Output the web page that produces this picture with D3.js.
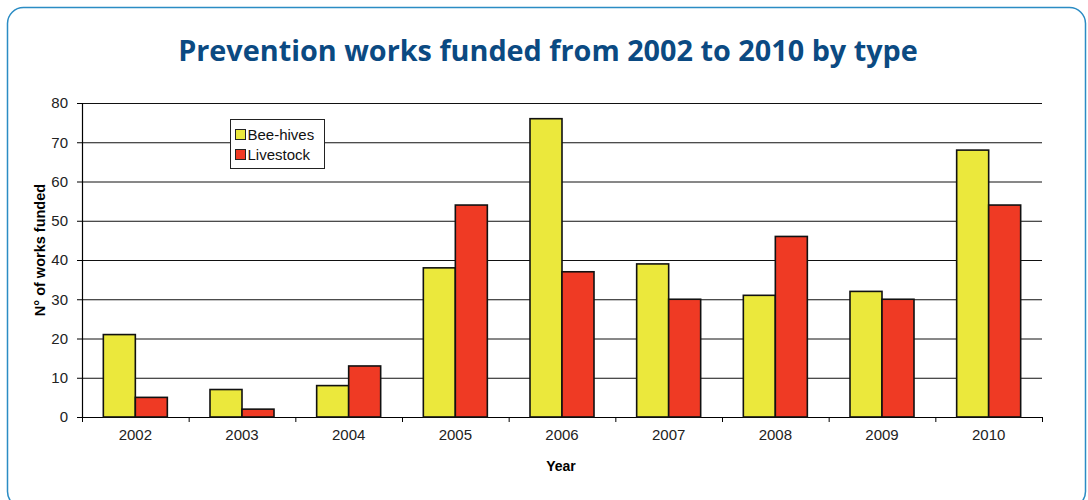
<!DOCTYPE html>
<html>
<head>
<meta charset="utf-8">
<script src="https://cdn.jsdelivr.net/npm/d3@7"></script>
<style>
  body { margin: 0; background: #fff; }
  svg { display: block; }
</style>
</head>
<body>
<div id="chart"></div>
<script>
// Chart data
var years = ["2002", "2003", "2004", "2005", "2006", "2007", "2008", "2009", "2010"];
var beeHives = [21, 7, 8, 38, 76, 39, 31, 32, 68];
var livestock = [5, 2, 13, 54, 37, 30, 46, 30, 54];
var seriesNames = ["Bee-hives", "Livestock"];
var yTicks = [0, 10, 20, 30, 40, 50, 60, 70, 80];

var W = 1088, H = 500;
var margin = {left: 82, right: 46, top: 103, bottom: 83};
var innerW = W - margin.left - margin.right;
var innerH = H - margin.top - margin.bottom;

var YELLOW = "#ebe83c";
var RED = "#ef3a24";
var FONT = "'Liberation Sans', Arial, sans-serif";

let svg = d3.select("#chart")
            .append("svg")
              .attr("width", W)
              .attr("height", H);

// outer panel with rounded border
svg.append("rect")
   .attr("x", 7.5)
   .attr("y", 7.5)
   .attr("width", 1078)
   .attr("height", 500)
   .attr("rx", 16)
   .attr("fill", "#fff")
   .attr("stroke", "#2b8cc4")
   .attr("stroke-width", 1.5);

// title
svg.append("text")
   .attr("x", 548)
   .attr("y", 61)
   .attr("text-anchor", "middle")
   .attr("font-family", "'Open Sans', sans-serif")
   .attr("font-weight", "bold")
   .attr("font-size", 28.8)
   .attr("fill", "#0b4a82")
   .text("Prevention works funded from 2002 to 2010 by type");

let g = svg.append("g")
           .attr("transform", `translate(${margin.left},${margin.top})`);

let xscale = d3.scaleBand()
               .domain(years)
               .range([0, innerW])
               .paddingInner(0.4)
               .paddingOuter(0.2);

let xsub = d3.scaleBand()
             .domain(seriesNames)
             .range([0, xscale.bandwidth()]);

let yscale = d3.scaleLinear()
               .domain([0, 80])
               .range([innerH, 0]);

// gridlines
g.selectAll(".grid")
 .data(yTicks.slice(1))
 .enter()
 .append("line")
   .attr("x1", 0)
   .attr("x2", innerW)
   .attr("y1", d => yscale(d) + 0.5)
   .attr("y2", d => yscale(d) + 0.5)
   .attr("stroke", "#111")
   .attr("stroke-width", 1);

// y axis
let yAxis = g.append("g")
             .call(d3.axisLeft(yscale).tickValues(yTicks).tickSize(5).tickPadding(9));
// x axis
let xAxis = g.append("g")
             .attr("transform", `translate(0,${innerH})`)
             .call(d3.axisBottom(xscale).tickSize(0).tickPadding(12));

// x boundary ticks between categories
g.selectAll(".xtick")
 .data(d3.range(years.length + 1))
 .enter()
 .append("line")
   .attr("x1", d => d * innerW / years.length + 0.5)
   .attr("x2", d => d * innerW / years.length + 0.5)
   .attr("y1", innerH)
   .attr("y2", innerH + 5)
   .attr("stroke", "#000");

svg.selectAll(".domain").attr("stroke", "#000").attr("stroke-width", 1.2);
svg.selectAll(".tick text")
   .attr("font-family", FONT)
   .attr("font-size", 15)
   .attr("fill", "#222");

// bars
let rows = years.map((y, i) => ({year: y, vals: [beeHives[i], livestock[i]]}));
let groups = g.selectAll(".grp")
              .data(rows)
              .enter()
              .append("g")
                .attr("transform", d => `translate(${xscale(d.year)},0)`);

groups.selectAll("rect")
      .data(d => d.vals.map((v, k) => ({name: seriesNames[k], v: v})))
      .enter()
      .append("rect")
        .attr("x", d => xsub(d.name))
        .attr("y", d => yscale(d.v))
        .attr("width", xsub.bandwidth())
        .attr("height", d => innerH - yscale(d.v))
        .attr("fill", d => d.name === "Bee-hives" ? YELLOW : RED)
        .attr("stroke", "#111")
        .attr("stroke-width", 1.6);

// axis titles
svg.append("text")
   .attr("transform", "translate(45,250) rotate(-90)")
   .attr("text-anchor", "middle")
   .attr("font-family", FONT)
   .attr("font-weight", "bold")
   .attr("font-size", 14.5)
   .text("N° of works funded");

svg.append("text")
   .attr("x", 561)
   .attr("y", 471)
   .attr("text-anchor", "middle")
   .attr("font-family", FONT)
   .attr("font-weight", "bold")
   .attr("font-size", 14)
   .text("Year");

// legend
let legend = svg.append("g").attr("transform", "translate(230.5,119.5)");
legend.append("rect")
      .attr("width", 94)
      .attr("height", 49)
      .attr("fill", "#fff")
      .attr("stroke", "#222");
seriesNames.forEach(function(name, i) {
  legend.append("rect")
        .attr("x", 5)
        .attr("y", 10 + i * 20)
        .attr("width", 10)
        .attr("height", 10)
        .attr("fill", i === 0 ? YELLOW : RED)
        .attr("stroke", "#222");
  legend.append("text")
        .attr("x", 17)
        .attr("y", 20 + i * 20)
        .attr("font-family", FONT)
        .attr("font-size", 15)
        .attr("fill", "#111")
        .text(name);
});
</script>
</body>
</html>
